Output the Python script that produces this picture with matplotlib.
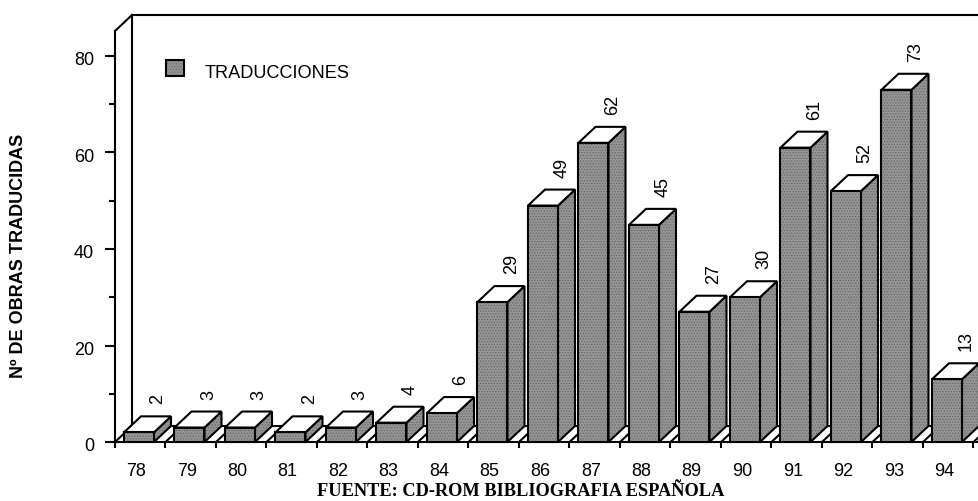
import numpy as np
import matplotlib
matplotlib.use('Agg')
import matplotlib.pyplot as plt
from matplotlib.patches import Polygon
from matplotlib.transforms import ScaledTranslation

years = ['78','79','80','81','82','83','84','85','86','87','88','89','90','91','92','93','94']
values = [2,3,3,2,3,4,6,29,49,62,45,27,30,61,52,73,13]
y_ticks = [0,20,40,60,80]
legend_label = 'TRADUCCIONES'
y_title = 'Nº DE OBRAS TRADUCIDAS'
source = 'FUENTE: CD-ROM BIBLIOGRAFIA ESPAÑOLA'

W, H = 979, 502
plt.rcParams['font.family'] = ['Liberation Sans', 'DejaVu Sans']
plt.rcParams['hatch.linewidth'] = 0.6
fig = plt.figure(figsize=(W/100, H/100), dpi=100)
L, R, B, T = 115, 979, 443, 32
ax = fig.add_axes([L/W, 1-B/H, (R-L)/W, (B-T)/H])
px_x = 50.5
px_y = 4.825
ax.set_xlim(0, (R-L)/px_x)
ax.set_ylim(0, (B-T)/px_y)
xmax = ax.get_xlim()[1]; ymax = ax.get_ylim()[1]
dx = 17/px_x
dy = 16/px_y
bw = 30/px_x
off = 9/px_x
lw = 1.5
GRAY = '#959595'
DOT = '#666666'
FS = 13

for s in ('top', 'right'):
    ax.spines[s].set_visible(False)
for s in ('left', 'bottom'):
    ax.spines[s].set_linewidth(lw)
    ax.spines[s].set_zorder(50)
ax.patch.set_visible(False)

# back wall and floor frame
kw = dict(color='k', lw=lw, clip_on=False, solid_capstyle='projecting')
ax.plot([dx, dx], [dy, ymax+dy], zorder=1, **kw)
ax.plot([dx, xmax], [ymax+dy, ymax+dy], zorder=1, **kw)
ax.plot([0, dx], [ymax, ymax+dy], zorder=1, **kw)
ax.plot([dx, xmax], [dy, dy], zorder=1, **kw)
for i in range(len(years)+1):
    ax.plot([i, i+dx], [0, dy], zorder=1, **kw)

# 3D bars
for i, v in enumerate(values):
    x0 = i + off
    x1 = x0 + bw
    z = 2 + i*0.01
    side = [(x1, 0), (x1+dx, dy), (x1+dx, v+dy), (x1, v)]
    top = [(x0, v), (x1, v), (x1+dx, v+dy), (x0+dx, v+dy)]
    ax.add_patch(Polygon(side, closed=True, fc=GRAY, ec=DOT, hatch='......', lw=0, zorder=z, clip_on=False))
    ax.add_patch(Polygon(side, closed=True, fc='none', ec='k', lw=lw, zorder=z, clip_on=False, joinstyle='miter'))
    ax.add_patch(Polygon(top, closed=True, fc='white', ec='k', lw=lw, zorder=z, clip_on=False, joinstyle='miter'))
    ax.bar(x0, v, width=bw, align='edge', color=GRAY, edgecolor=DOT, hatch='......', lw=0, zorder=z, clip_on=False)
    ax.bar(x0, v, width=bw, align='edge', color='none', edgecolor='k', lw=lw, zorder=z, clip_on=False)
    ax.text(x0+bw/2+dx+2/px_x, v+dy+13/px_y, str(v), rotation=90, ha='center', va='bottom',
            fontsize=FS, color='k', zorder=60)

# axes ticks
ax.set_yticks(y_ticks)
ax.set_yticks([t+10 for t in y_ticks[:-1]], minor=True)
ax.tick_params(axis='y', which='major', length=7.2, width=lw, labelsize=FS, pad=8)
ax.tick_params(axis='y', which='minor', length=4.3, width=lw)
shift = ScaledTranslation(0, -2/72*0.72, fig.dpi_scale_trans)
for lab in ax.get_yticklabels():
    lab.set_transform(lab.get_transform() + shift)
ax.set_xticks(np.arange(len(years)+1))
ax.set_xticklabels([])
ax.tick_params(axis='x', which='major', length=6/1.39, width=lw)
ax.set_xticks(np.arange(len(years))+0.42, minor=True)
ax.set_xticklabels(years, minor=True, fontsize=FS)
ax.tick_params(axis='x', which='minor', length=0, pad=14.5)

# legend
ax.bar(51/px_x, 16/px_y, width=18/px_x, bottom=(B-77)/px_y, align='edge', color=GRAY, edgecolor=DOT,
       hatch='......', lw=0, zorder=60)
ax.bar(51/px_x, 16/px_y, width=18/px_x, bottom=(B-77)/px_y, align='edge', color='none', edgecolor='k',
       lw=lw, zorder=61)
fig.text(205/W, 1-73/H, legend_label, fontsize=13.1, va='center', ha='left')

fig.text(19/W, 1-256/H, y_title, rotation=90, fontsize=13, fontweight='bold', ha='center', va='center')
fig.text(520.5/W, 1-496.5/H, source, fontsize=13.2, fontweight='bold', family=['Liberation Serif'],
         ha='center', va='baseline')
fig.savefig('out.png', dpi=100)
